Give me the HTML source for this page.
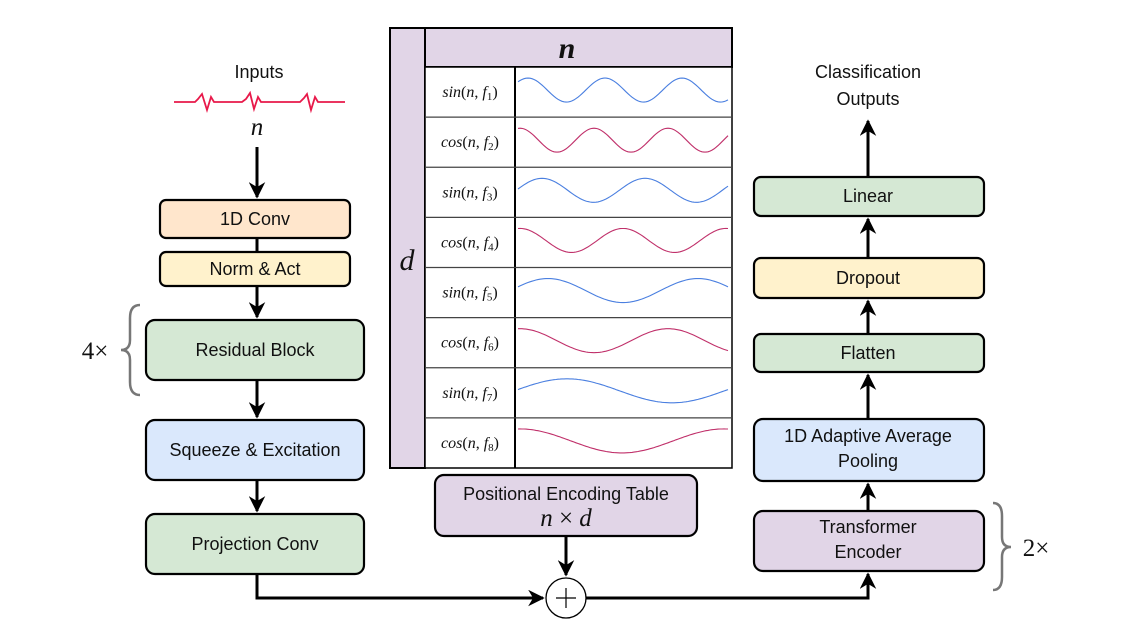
<!DOCTYPE html>
<html><head><meta charset="utf-8"><style>
html,body{margin:0;padding:0;background:#fff;}
svg{display:block;}
text{font-family:"Liberation Sans",sans-serif;fill:#111;}
.m{font-family:"Liberation Serif",serif;font-style:italic;}
.s{font-family:"Liberation Serif",serif;}
.n{font-style:normal;}
</style></head><body>
<svg id="s" width="1134" height="637" viewBox="0 0 1134 637" xmlns="http://www.w3.org/2000/svg">
<defs>
<marker id="a" viewBox="0 0 10 10" refX="9" refY="5" markerWidth="5.5" markerHeight="5.5" orient="auto"><path d="M0,0 L10,5 L0,10 L3,5 Z" fill="#000"/></marker>
</defs>
<text x="259" y="78" font-size="18" text-anchor="middle">Inputs</text>
<path d="M174,102 H195 L198,99 L202,94 L207,110 L211,97 L214,102 H242 L246,99 L250,93 L254,109 L258,97 L261,102 H300 L304,98 L307,94 L311,110 L315,97 L318,102 H345" fill="none" stroke="#e8194a" stroke-width="1.8"/>
<text x="257" y="135" font-size="25" class="m" text-anchor="middle">n</text>
<g stroke="#000" stroke-width="3" fill="none">
<line x1="257" y1="147" x2="257" y2="197" marker-end="url(#a)"/>
<line x1="257" y1="286" x2="257" y2="317" marker-end="url(#a)"/>
<line x1="257" y1="380" x2="257" y2="417" marker-end="url(#a)"/>
<line x1="257" y1="480" x2="257" y2="511" marker-end="url(#a)"/>
<polyline points="257,574 257,598 543,598" marker-end="url(#a)"/>
<line x1="566" y1="536" x2="566" y2="575" marker-end="url(#a)"/>
<polyline points="586,598 868,598 868,574" marker-end="url(#a)"/>
<line x1="868" y1="511" x2="868" y2="484" marker-end="url(#a)"/>
<line x1="868" y1="419" x2="868" y2="375" marker-end="url(#a)"/>
<line x1="868" y1="334" x2="868" y2="301" marker-end="url(#a)"/>
<line x1="868" y1="258" x2="868" y2="219" marker-end="url(#a)"/>
<line x1="868" y1="177" x2="868" y2="121" marker-end="url(#a)"/>
</g>
<line x1="257" y1="238" x2="257" y2="252" stroke="#000" stroke-width="3"/>
<g stroke="#000" stroke-width="2.2">
<rect x="160" y="200" width="190" height="38" rx="6" fill="#ffe6cc"/>
<rect x="160" y="252" width="190" height="34" rx="6" fill="#fff2cc"/>
<rect x="146" y="320" width="218" height="60" rx="9" fill="#d5e8d4"/>
<rect x="146" y="420" width="218" height="60" rx="9" fill="#dae8fc"/>
<rect x="146" y="514" width="218" height="60" rx="9" fill="#d5e8d4"/>
<rect x="435" y="475" width="262" height="61" rx="9" fill="#e1d5e7"/>
<rect x="754" y="177" width="230" height="39" rx="7" fill="#d5e8d4"/>
<rect x="754" y="258" width="230" height="40" rx="7" fill="#fff2cc"/>
<rect x="754" y="334" width="230" height="38" rx="7" fill="#d5e8d4"/>
<rect x="754" y="419" width="230" height="62" rx="9" fill="#dae8fc"/>
<rect x="754" y="511" width="230" height="60" rx="9" fill="#e1d5e7"/>
</g>
<circle cx="566" cy="598" r="20" fill="#fff" stroke="#000" stroke-width="1.3"/>
<path d="M556,598 H576 M566,588 V608" stroke="#000" stroke-width="1.2"/>
<g font-size="18" text-anchor="middle">
<text x="255" y="225">1D Conv</text>
<text x="255" y="275">Norm &amp; Act</text>
<text x="255" y="356">Residual Block</text>
<text x="255" y="456">Squeeze &amp; Excitation</text>
<text x="255" y="550">Projection Conv</text>
<text x="566" y="500">Positional Encoding Table</text>
<text x="868" y="202">Linear</text>
<text x="868" y="284">Dropout</text>
<text x="868" y="359">Flatten</text>
<text x="868" y="442">1D Adaptive Average</text>
<text x="868" y="467">Pooling</text>
<text x="868" y="533">Transformer</text>
<text x="868" y="558">Encoder</text>
<text x="868" y="78">Classification</text>
<text x="868" y="105">Outputs</text>
</g>
<text x="566" y="526" font-size="25" class="m" text-anchor="middle">n <tspan class="n">×</tspan> d</text>
<path d="M140,305 Q130,305 130,318 V340 Q130,350 121,350 Q130,350 130,360 V382 Q130,395 140,395" fill="none" stroke="#777" stroke-width="2.5"/>
<text x="95" y="359" font-size="25" text-anchor="middle" class="s">4×</text>
<path d="M993,503 Q1002,503 1002,516 V537 Q1002,547 1011,547 Q1002,547 1002,557 V577 Q1002,590 993,590" fill="none" stroke="#777" stroke-width="2.5"/>
<text x="1036" y="556" font-size="25" text-anchor="middle" class="s">2×</text>
<rect x="390" y="28" width="35" height="440" fill="#e1d5e7" stroke="#000" stroke-width="2"/>
<rect x="425" y="28" width="307" height="39" fill="#e1d5e7" stroke="#000" stroke-width="2"/>
<text x="567" y="58" font-size="30" class="m" text-anchor="middle" font-weight="bold">n</text>
<text x="407" y="270" font-size="30" class="m" text-anchor="middle">d</text>
<rect x="425" y="67" width="307" height="401" fill="#fff" stroke="#000" stroke-width="1.5"/>
<line x1="515" y1="67" x2="515" y2="468" stroke="#000" stroke-width="2"/>
<g id="rows"></g>
</svg>
<script>
var g=document.getElementById('rows');
var specs=[['sin',1,528,77,'#4a7fe0'],['cos',2,520,74,'#c0306a'],['sin',3,542,103,'#4a7fe0'],['cos',4,520,103,'#c0306a'],['sin',5,548,150,'#4a7fe0'],['cos',6,520,148,'#c0306a'],['sin',7,567,210,'#4a7fe0'],['cos',8,520,204,'#c0306a']];
var h=401/8,out='';
for(var i=0;i<8;i++){var y0=67+i*h,c=y0+h/2-2,s=specs[i];
if(i>0)out+='<line x1="425" y1="'+y0+'" x2="732" y2="'+y0+'" stroke="#444" stroke-width="1.2"/>';
var d='';for(var x=518;x<=728;x+=2){var y=c-12*Math.cos(2*Math.PI*(x-s[2])/s[3]);d+=(x==518?'M':'L')+x+','+y.toFixed(1);}
out+='<path d="'+d+'" fill="none" stroke="'+s[4]+'" stroke-width="1.1"/>';
out+='<text x="470" y="'+(c+7)+'" font-size="16" text-anchor="middle" class="m">'+s[0]+'<tspan class="n">(</tspan>n<tspan class="n">,</tspan> f<tspan font-size="11" dy="3" class="n">'+s[1]+'</tspan><tspan dy="-3" class="n">)</tspan></text>';}
g.innerHTML=out;
</script>
</body></html>
